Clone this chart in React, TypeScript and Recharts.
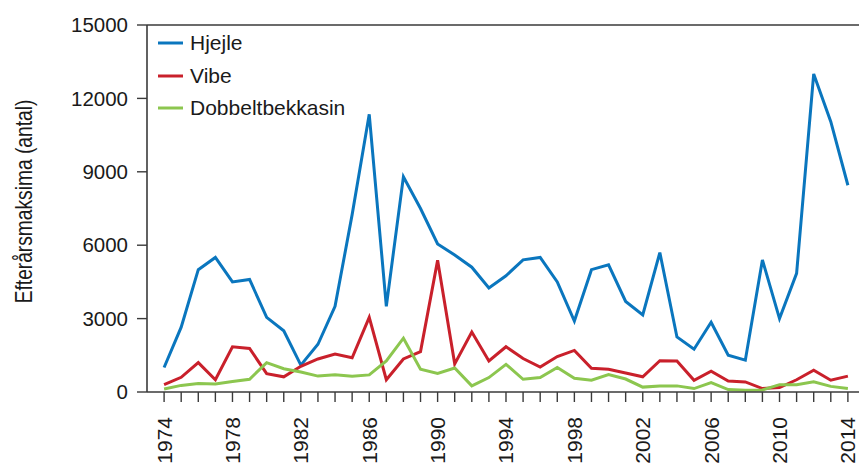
import React from "react";
import { LineChart, Line, XAxis, YAxis, ReferenceLine, Legend } from "recharts";

const years = [
  1974, 1975, 1976, 1977, 1978, 1979, 1980, 1981, 1982, 1983,
  1984, 1985, 1986, 1987, 1988, 1989, 1990, 1991, 1992, 1993,
  1994, 1995, 1996, 1997, 1998, 1999, 2000, 2001, 2002, 2003,
  2004, 2005, 2006, 2007, 2008, 2009, 2010, 2011, 2012, 2013, 2014,
];
const hjejle = [
  1000, 2650, 5000, 5500, 4500, 4600, 3050, 2500, 1100, 1950,
  3500, 7250, 11350, 3500, 8800, 7500, 6050, 5600, 5100, 4250,
  4750, 5400, 5500, 4500, 2900, 5000, 5200, 3700, 3150, 5700,
  2250, 1750, 2850, 1500, 1300, 5400, 3000, 4850, 13000, 11050, 8450,
];
const vibe = [
  300, 600, 1200, 500, 1850, 1780, 750, 620, 1050, 1350,
  1550, 1400, 3050, 500, 1350, 1650, 5380, 1150, 2450, 1270,
  1850, 1370, 1020, 1450, 1700, 970, 930, 780, 620, 1280,
  1270, 480, 850, 450, 410, 140, 180, 500, 890, 480, 650,
];
const dobbeltbekkasin = [
  120, 270, 350, 330, 430, 520, 1200, 950, 820, 650,
  700, 640, 700, 1270, 2200, 930, 760, 980, 250, 590,
  1130, 520, 590, 1000, 560, 480, 710, 530, 200, 250,
  250, 140, 380, 100, 70, 80, 300, 300, 420, 230, 140,
];
const yTicks = [0, 3000, 6000, 9000, 12000, 15000];
const labeledYears = [1974, 1978, 1982, 1986, 1990, 1994, 1998, 2002, 2006, 2010, 2014];

const series = [
  { key: "hjejle", name: "Hjejle", color: "#0A76BE" },
  { key: "vibe", name: "Vibe", color: "#C9202B" },
  { key: "dobbeltbekkasin", name: "Dobbeltbekkasin", color: "#8CC64F" },
];

const data = years.map((year, i) => ({
  year,
  hjejle: hjejle[i],
  vibe: vibe[i],
  dobbeltbekkasin: dobbeltbekkasin[i],
}));

const FONT = "'Liberation Sans', Arial, sans-serif";
const AXIS = "#3a3a3a";
const TEXT = "#1a1a1a";

const XTick = (props: any) => {
  const { x, payload } = props;
  if (!labeledYears.includes(payload.value)) return null;
  const tx = x + 7.5;
  const ty = 417;
  return (
    <text
      x={tx}
      y={ty}
      transform={`rotate(-90, ${tx}, ${ty})`}
      textAnchor="end"
      fontSize={21}
      fontFamily={FONT}
      fill={TEXT}
    >
      {payload.value}
    </text>
  );
};

const LegendContent = () => (
  <div style={{ fontFamily: FONT, fontSize: 21, color: TEXT }}>
    {series.map((s) => (
      <div key={s.key} style={{ display: "flex", alignItems: "center", height: 32.5 }}>
        <svg width={25} height={4} style={{ display: "block" }}>
          <line x1={0} y1={2} x2={25} y2={2} stroke={s.color} strokeWidth={3} />
        </svg>
        <span style={{ marginLeft: 7, lineHeight: "32.5px" }}>{s.name}</span>
      </div>
    ))}
  </div>
);

export default function App() {
  return (
    <div style={{ position: "absolute", left: 0, top: 0, background: "#fff" }}>
      <LineChart
        width={859}
        height={463}
        data={data}
        margin={{ top: 25, right: 0, bottom: 0, left: 0 }}
      >
        <XAxis
          dataKey="year"
          type="number"
          domain={[1973, 2014.65]}
          allowDataOverflow
          ticks={years}
          interval={0}
          tick={<XTick />}
          tickSize={10}
          height={71}
          axisLine={{ stroke: AXIS, strokeWidth: 1.6 }}
          tickLine={{ stroke: AXIS, strokeWidth: 1.4 }}
        />
        <YAxis
          type="number"
          domain={[0, 15000]}
          ticks={yTicks}
          interval={0}
          width={147}
          tickSize={10}
          tickMargin={9}
          axisLine={{ stroke: AXIS, strokeWidth: 1.6 }}
          tickLine={{ stroke: AXIS, strokeWidth: 1.4 }}
          tick={{ fontSize: 20.5, fontFamily: FONT, fill: TEXT }}
          label={{
            content: () => (
              <text
                x={0}
                y={0}
                transform="translate(31.5, 201.5) rotate(-90) scale(0.8, 1)"
                textAnchor="middle"
                fontSize={24}
                fontFamily={FONT}
                fill={TEXT}
              >
                Efterårsmaksima (antal)
              </text>
            ),
          }}
        />
        <ReferenceLine y={15000} stroke={AXIS} strokeWidth={1.6} ifOverflow="visible" />
        <Legend
          layout="horizontal"
          verticalAlign="middle"
          align="center"
          content={<LegendContent />}
          wrapperStyle={{ position: "absolute", left: 158, top: 27, width: "auto", height: "auto" }}
        />
        {series.map((s) => (
          <Line
            key={s.key}
            type="linear"
            dataKey={s.key}
            name={s.name}
            stroke={s.color}
            strokeWidth={3}
            dot={false}
            activeDot={false}
            isAnimationActive={false}
          />
        ))}
      </LineChart>
    </div>
  );
}
